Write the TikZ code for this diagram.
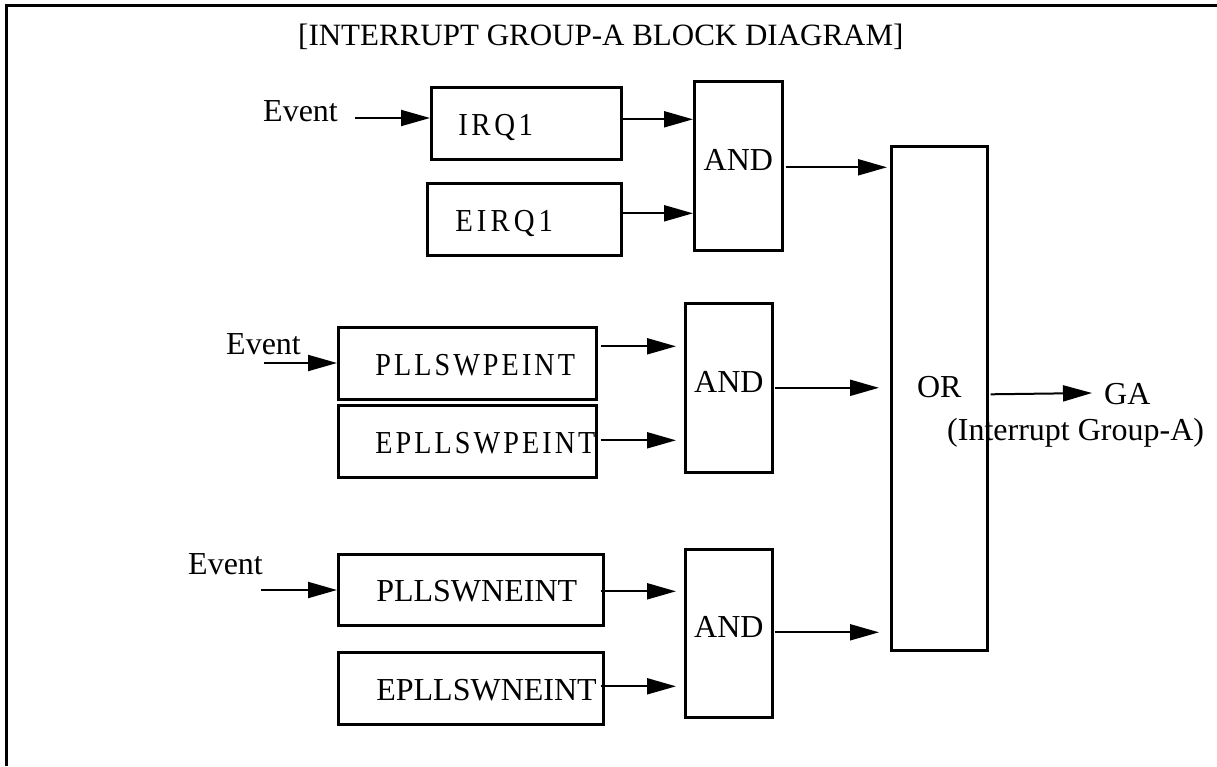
\documentclass[tikz,border=0pt]{standalone}
\usepackage{fontspec}
\setmainfont{Liberation Serif}
\usepackage{graphicx}
\usetikzlibrary{arrows.meta}

% letters set one by one with a fixed gap between them
\makeatletter
\newcommand\spreadchars[2]{\@tfor\sc@tok:=#2\do{\sc@tok\kern#1\relax}\unkern}
\makeatother

\tikzset{
  lbl/.style={font=\fontsize{32}{38}\selectfont, inner sep=0pt},
  blk/.style={draw, line width=2.6pt, anchor=north west, inner ysep=0pt,
              font=\fontsize{32}{38}\selectfont},
  regbox/.style={blk, align=left, text height=24pt, text depth=0pt},
  gate/.style={blk, inner xsep=0pt, align=center, text height=21pt, text depth=12pt},
  arr/.style={line width=2pt, -{Triangle[length=29pt,width=16pt]}},
  frame/.style={line width=3pt, line join=miter}
}

\begin{document}
\begin{tikzpicture}[x=1pt,y=-1pt]
\useasboundingbox (0,0) rectangle (1217,766);

% outer frame (top and left edges)
\draw[frame] (6,766) -- (6,5) -- (1217,5);

% title
\node[lbl, font=\fontsize{31}{37}\selectfont, anchor=base west] (title) at (298,45)
  {[INTERRUPT GROUP-A BLOCK DIAGRAM]};

% group 1: IRQ1
\node[lbl, anchor=base west] (ev1) at (263,121) {Event};
\node[regbox, minimum height=72pt, text width=136pt, inner xsep=27pt] (irq) at (430,86)
  {\scalebox{0.9}[1]{\spreadchars{4pt}{IRQ1}}};
\node[regbox, minimum height=72pt, text width=138pt, inner xsep=28pt] (eirq) at (426,182)
  {\scalebox{0.9}[1]{\spreadchars{4.5pt}{EIRQ1}}};
\node[gate, minimum width=88pt, minimum height=169pt] (and1) at (693,80) {AND};

% group 2: PLLSWPEINT
\node[lbl, anchor=base west] (ev2) at (226,354) {Event};
\node[regbox, minimum height=72pt, text width=184pt, inner xsep=37pt] (pe) at (337,326)
  {\scalebox{0.88}[1]{\spreadchars{3.5pt}{PLLSWPEINT}}};
\node[regbox, minimum height=72pt, text width=184pt, inner xsep=37pt] (epe) at (337,404)
  {\scalebox{0.88}[1]{\spreadchars{3.5pt}{EPLLSWPEINT}}};
\node[gate, minimum width=87pt, minimum height=169pt] (and2) at (684,302) {AND};

% group 3: PLLSWNEINT
\node[lbl, anchor=base west] (ev3) at (188,574) {Event};
\node[regbox, minimum height=71pt, text width=189pt, inner xsep=38pt] (ne) at (337,553) {PLLSWNEINT};
\node[regbox, minimum height=72pt, text width=189pt, inner xsep=38pt] (ene) at (337,651) {EPLLSWNEINT};
\node[gate, minimum width=87pt, minimum height=168pt] (and3) at (684,548) {AND};

% OR gate and output
\node[gate, minimum width=96pt, minimum height=504pt, text depth=22pt] (or) at (890,145) {OR};
\node[lbl, anchor=base west] (ga) at (1104,404) {GA};
\node[lbl, anchor=base west] (gadesc) at (947,440) {(Interrupt Group-A)};

% free ends of the connectors
\coordinate (in1) at (355,118);
\coordinate (in2) at (264,363);
\coordinate (in3) at (261,590);
\coordinate (out) at (1092,393);

% connectors
\draw[arr] (in1) -- (in1 -| irq.west);
\draw[arr] ([yshift=4pt]irq.east) -- ([yshift=4pt]irq.east -| and1.west);
\draw[arr] ([yshift=6pt]eirq.east) -- ([yshift=6pt]eirq.east -| and1.west);
\draw[arr] ([xshift=2pt,yshift=-1.5pt]and1.east) -- ([xshift=-3pt,yshift=-1.5pt]and1.east -| or.west);

\draw[arr] (in2) -- (in2 -| pe.west);
\draw[arr] ([xshift=3pt,yshift=17pt]pe.east) -- ([xshift=-8pt,yshift=17pt]pe.east -| and2.west);
\draw[arr] ([xshift=3pt,yshift=1pt]epe.east) -- ([xshift=-8pt,yshift=1pt]epe.east -| and2.west);
\draw[arr] ([xshift=1pt]and2.east) -- ([xshift=-11pt]and2.east -| or.west);

\draw[arr] (in3) -- (in3 -| ne.west);
\draw[arr] ([xshift=-4pt,yshift=-1.5pt]ne.east) -- ([xshift=-8pt,yshift=-1.5pt]ne.east -| and3.west);
\draw[arr] ([xshift=-4pt,yshift=2pt]ene.east) -- ([xshift=-8pt,yshift=2pt]ene.east -| and3.west);
\draw[arr] ([xshift=1pt,yshift=1pt]and3.east) -- ([xshift=-11pt,yshift=1pt]and3.east -| or.west);

\draw[arr] ([xshift=2pt,yshift=4pt]or.east) -- (out);
\end{tikzpicture}
\end{document}
